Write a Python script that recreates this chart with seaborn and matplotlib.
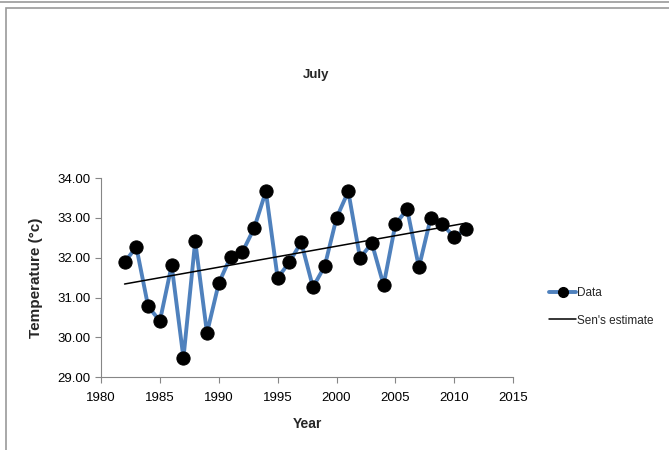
"""
July temperature with Sen's slope estimate
"""
import numpy as np
import pandas as pd
import seaborn as sns
import matplotlib.pyplot as plt
from matplotlib.patches import Rectangle
from matplotlib.lines import Line2D

years = list(range(1982, 2012))
temps = [31.89, 32.27, 30.78, 30.41, 31.81, 29.48, 32.42, 30.11, 31.36, 32.02,
         32.14, 32.74, 33.67, 31.49, 31.89, 32.39, 31.26, 31.79, 33.00, 33.67,
         31.99, 32.37, 31.31, 32.84, 33.22, 31.76, 33.00, 32.84, 32.52, 32.72]
# Sen's estimate: value at first year and slope per year
sen_start = 31.34
sen_slope = 0.0528

xticks = [1980, 1985, 1990, 1995, 2000, 2005, 2010, 2015]
yticks = [29.0, 30.0, 31.0, 32.0, 33.0, 34.0]

sns.set_theme(style="white")
plt.rcParams["font.family"] = ["Liberation Sans", "DejaVu Sans"]

df = pd.DataFrame({"Year": years, "Temp": temps})
df["Sen"] = sen_start + sen_slope * (df["Year"] - years[0])

fig = plt.figure(figsize=(6.69, 4.5), dpi=100)
ax = fig.add_axes([0.151, 0.162, 0.616, 0.442])

sns.lineplot(data=df, x="Year", y="Sen", ax=ax, color="black", linewidth=1.1, zorder=3)
sns.lineplot(data=df, x="Year", y="Temp", ax=ax, color="#4F81BD", linewidth=2.8,
             marker="o", markersize=9.5, markerfacecolor="black", markeredgecolor="black",
             zorder=2)

ax.set_xlim(1980, 2015)
ax.set_ylim(29, 34)
ax.set_xticks(xticks)
ax.set_yticks(yticks)
ax.set_yticklabels([f"{v:.2f}" for v in yticks])
ax.tick_params(axis="both", labelsize=9.5, colors="#868686", labelcolor="black",
               length=4, width=0.8, direction="out", bottom=True, left=True)
ax.tick_params(axis="x", pad=7)
for s in ["top", "right"]:
    ax.spines[s].set_visible(False)
for s in ["left", "bottom"]:
    ax.spines[s].set_color("#868686")
    ax.spines[s].set_linewidth(0.8)

ax.set_xlabel("Year", fontsize=10, fontweight="bold", labelpad=9)
ax.set_ylabel("Temperature (\u00b0c)", fontsize=11, fontweight="bold", labelpad=10)
fig.text(0.472, 0.833, "July", ha="center", va="center", fontsize=9.5, fontweight="bold")

handles = [
    Line2D([], [], color="#4F81BD", linewidth=2.8, marker="o", markersize=7,
           markerfacecolor="black", markeredgecolor="black"),
    Line2D([], [], color="black", linewidth=1.1),
]
fig.legend(handles, ["Data", "Sen's estimate"], loc="center left",
           bbox_to_anchor=(0.812, 0.318), frameon=False, fontsize=8.5,
           handlelength=2.3, handletextpad=0.05, labelspacing=1.3, borderpad=0)

# chart frame like the source spreadsheet
fig.add_artist(Rectangle((0.009, -0.01), 1.2, 0.993, transform=fig.transFigure,
                         fill=False, edgecolor="#9a9a9a", linewidth=1.2))
fig.add_artist(Line2D([0, 1], [0.996, 0.996], transform=fig.transFigure,
                      color="#9a9a9a", linewidth=1.2))

fig.savefig("out.png", dpi=100)
